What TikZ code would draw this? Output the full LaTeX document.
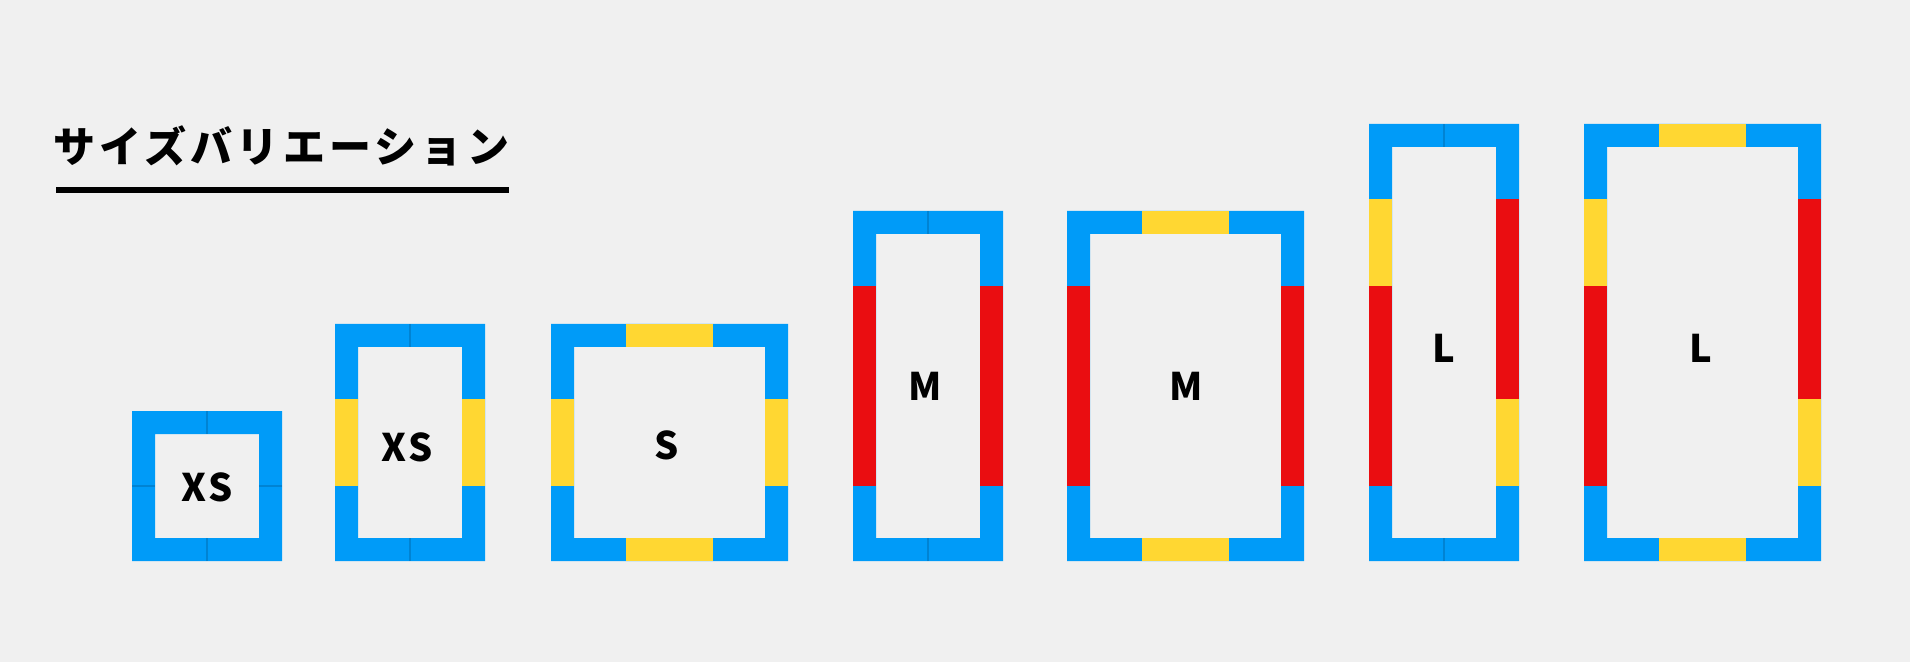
\documentclass[tikz,border=0pt]{standalone}
\usepackage{fontspec}
\usepackage{tikz}
\usepackage{xcolor}

\newfontfamily\titlefont{Noto Sans CJK JP}[LetterSpace=10]
\newfontfamily\sizefont{Noto Sans CJK JP}[LetterSpace=8]
\definecolor{sizeblue}{RGB}{0,155,248}
\definecolor{sizeyellow}{RGB}{255,215,50}
\definecolor{sizered}{RGB}{234,13,17}
\definecolor{bggray}{RGB}{240,240,240}

\newcommand{\sizeframe}[4]{\fill[sizeblue,even odd rule] (#1,#2) rectangle ++(#3,#4) (#1+23,#2+23) rectangle (#1+#3-23,#2+#4-23);}
\newcommand{\sidepiece}[4]{\fill[#4] (#1,#2) rectangle ++(23,#3);}
\newcommand{\crosspiece}[4]{\fill[#4] (#1,#2) rectangle ++(#3,23);}

\begin{document}
\begin{tikzpicture}[x=0.5pt, y=-0.5pt,
    sizelabel/.style={inner sep=0pt, font=\sizefont\bfseries\fontsize{19}{19}\selectfont},
    seam/.style={draw=black, draw opacity=0.15, line width=0.6pt}]
    \fill[bggray] (0,0) rectangle (1910,662);

    \node[anchor=west, inner sep=0pt, font=\titlefont\bfseries\fontsize{21}{21}\selectfont] (title) at (53,146) {サイズバリエーション};
    \coordinate (rule-l) at (56,190);
    \coordinate (rule-r) at (509,190);
    \draw[line width=3pt] (rule-l) -- (rule-r);

    \sizeframe{132}{411}{150}{150}
    \draw[seam] (207,411) -- ++(0,23) (207,561) -- ++(0,-23) (132,486) -- ++(23,0) (282,486) -- ++(-23,0);
    \node[sizelabel] (xs-a) at (207,487) {XS};

    \sizeframe{335}{324}{150}{237}
    \sidepiece{335}{399}{87}{sizeyellow}
    \sidepiece{462}{399}{87}{sizeyellow}
    \draw[seam] (410,324) -- ++(0,23) (410,561) -- ++(0,-23);
    \node[sizelabel] (xs-b) at (407,447) {XS};

    \sizeframe{551}{324}{237}{237}
    \crosspiece{626}{324}{87}{sizeyellow}
    \crosspiece{626}{538}{87}{sizeyellow}
    \sidepiece{551}{399}{87}{sizeyellow}
    \sidepiece{765}{399}{87}{sizeyellow}
    \node[sizelabel] (s) at (667,445) {S};

    \sizeframe{853}{211}{150}{350}
    \sidepiece{853}{286}{200}{sizered}
    \sidepiece{980}{286}{200}{sizered}
    \draw[seam] (928,211) -- ++(0,23) (928,561) -- ++(0,-23);
    \node[sizelabel] (m-a) at (925,386) {M};

    \sizeframe{1067}{211}{237}{350}
    \crosspiece{1142}{211}{87}{sizeyellow}
    \crosspiece{1142}{538}{87}{sizeyellow}
    \sidepiece{1067}{286}{200}{sizered}
    \sidepiece{1281}{286}{200}{sizered}
    \node[sizelabel] (m-b) at (1186,386) {M};

    \sizeframe{1369}{124}{150}{437}
    \sidepiece{1369}{199}{87}{sizeyellow}
    \sidepiece{1369}{286}{200}{sizered}
    \sidepiece{1496}{199}{200}{sizered}
    \sidepiece{1496}{399}{87}{sizeyellow}
    \draw[seam] (1444,124) -- ++(0,23) (1444,561) -- ++(0,-23);
    \node[sizelabel] (l-a) at (1444,348) {L};

    \sizeframe{1584}{124}{237}{437}
    \crosspiece{1659}{124}{87}{sizeyellow}
    \crosspiece{1659}{538}{87}{sizeyellow}
    \sidepiece{1584}{199}{87}{sizeyellow}
    \sidepiece{1584}{286}{200}{sizered}
    \sidepiece{1798}{199}{200}{sizered}
    \sidepiece{1798}{399}{87}{sizeyellow}
    \node[sizelabel] (l-b) at (1701,348) {L};
\end{tikzpicture}
\end{document}
